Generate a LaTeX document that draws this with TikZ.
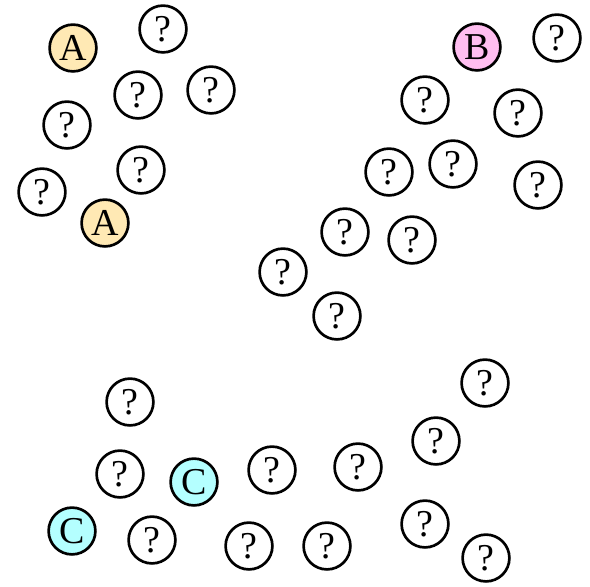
\documentclass[tikz,border=0pt]{standalone}
\usepackage{fontspec}
\setmainfont{Liberation Serif}
\usepackage{tikz}
\usetikzlibrary{positioning}
\definecolor{afill}{RGB}{255,233,180}
\definecolor{bfill}{RGB}{255,190,240}
\definecolor{cfill}{RGB}{180,255,255}
\tikzset{
  dot/.style={circle,draw=black,line width=1.9pt,minimum size=1.17cm,inner sep=0pt,
    font=\fontsize{27}{30}\selectfont},
  qdot/.style={dot,fill=white},
  adot/.style={dot,fill=afill},   % group A
  bdot/.style={dot,fill=bfill},   % group B
  cdot/.style={dot,fill=cfill},   % group C
}
\begin{document}
\begin{tikzpicture}[x=0.025cm,y=-0.025cm]
  \useasboundingbox (0,0) rectangle (590,586);
  % unknown points, one per circle
  \foreach \x/\y [count=\i] in {163/29, 138/95, 211/90, 67/125, 141/170, 42/192,
      557/38, 425/100, 518/113, 389/172, 453/164, 538/185, 345/232, 412/240,
      283/272, 337/316,
      485/383, 130/402, 436/441, 120/474, 272/470, 358/467, 425/524,
      152/540, 249/546, 327/546, 486/558}{
    \node[qdot] (q\i) at (\x,\y) {?};
  }
  % labelled points
  \node[adot] (a1) at (73,48) {A};
  \node[adot] (a2) at (105,223) {A};
  \node[bdot] (b1) at (477,47) {B};
  \node[cdot] (c1) at (194,482) {C};
  \node[cdot] (c2) at (72,531) {C};
\end{tikzpicture}
\end{document}
